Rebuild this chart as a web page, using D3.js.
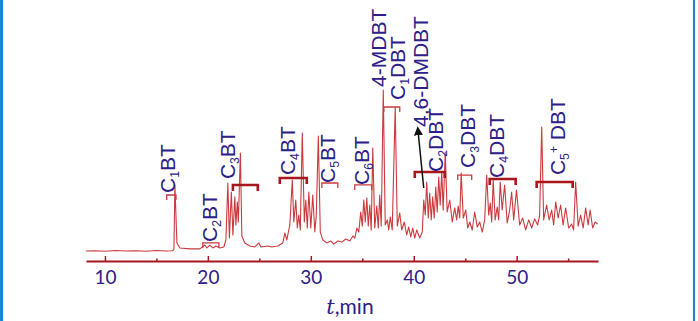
<!DOCTYPE html>
<html>
<head>
<meta charset="utf-8">
<script src="https://cdn.jsdelivr.net/npm/d3@7"></script>
<style>
body { margin: 0; background: #fff; }
svg { display: block; }
</style>
</head>
<body>
<svg></svg>
<script>
var width = 698, height = 321;

// retention time (min) and detector signal (% of largest peak)
var times = [8.16, 9.0, 10.0, 11.0, 12.0, 13.0, 14.0, 15.0, 16.0, 16.55, 16.70, 16.80, 16.99, 17.28,
	18.25, 19.22, 19.71, 19.90, 20.19, 20.49, 20.78, 21.17, 21.55, 21.75, 21.94, 22.09, 22.28, 22.43,
	22.62, 22.72, 22.86, 22.96, 23.16, 23.30, 23.59, 24.08, 24.56, 24.95, 25.15, 25.83, 26.21, 26.80,
	27.28, 27.48, 27.67, 27.96, 28.20, 28.35, 28.54, 28.69, 28.83, 28.98, 29.17, 29.37, 29.51, 29.66,
	29.81, 30.00, 30.19, 30.39, 30.53, 30.73, 30.92, 31.17, 31.55, 31.94, 32.23, 32.62, 33.01, 33.40,
	33.79, 34.08, 34.27, 34.47, 34.66, 34.85, 35.00, 35.15, 35.29, 35.44, 35.58, 35.73, 35.87, 36.02,
	36.21, 36.41, 36.55, 36.70, 36.84, 37.04, 37.23, 37.43, 37.57, 37.72, 37.91, 38.20, 38.40, 38.64,
	38.83, 39.08, 39.32, 39.51, 39.71, 39.90, 40.10, 40.29, 40.58, 40.83, 40.97, 41.12, 41.26, 41.41,
	41.55, 41.70, 41.84, 41.99, 42.14, 42.28, 42.43, 42.57, 42.72, 42.86, 43.06, 43.25, 43.50, 43.74,
	43.98, 44.17, 44.32, 44.47, 44.61, 44.81, 45.05, 45.24, 45.44, 45.68, 45.92, 46.17, 46.41, 46.65,
	46.89, 47.09, 47.28, 47.43, 47.57, 47.72, 47.91, 48.11, 48.25, 48.40, 48.59, 48.83, 49.08, 49.32,
	49.51, 49.71, 49.98, 50.29, 50.58, 50.87, 51.17, 51.46, 51.75, 52.04, 52.23, 52.43, 52.62, 52.91,
	53.16, 53.40, 53.59, 53.79, 54.03, 54.27, 54.51, 54.76, 55.05, 55.34, 55.53, 55.73, 55.97, 56.21,
	56.46, 56.70, 56.94, 57.14, 57.38, 57.62, 57.86];
var signal = [0.6, 0.8, 0.5, 0.9, 0.6, 0.8, 0.5, 0.9, 0.6, 0.8, 1.5, 41.4, 5.6, 2.5,
	1.9, 1.9, 4.3, 2.5, 4.3, 2.5, 3.7, 2.5, 3.1, 7.4, 42.6, 8.6, 37.0, 10.5,
	34.0, 16.7, 30.9, 18.5, 61.1, 9.9, 5.6, 3.7, 3.1, 5.6, 3.1, 3.7, 3.1, 3.7,
	5.6, 11.7, 7.4, 16.7, 44.4, 18.5, 32.1, 14.8, 22.8, 13.6, 73.5, 18.5, 32.1, 14.8,
	37.0, 14.8, 35.2, 12.3, 22.8, 71.6, 12.3, 7.4, 5.6, 6.8, 4.9, 6.8, 6.2, 8.0,
	6.8, 9.9, 8.6, 14.8, 12.3, 24.7, 16.0, 32.1, 18.5, 33.3, 16.0, 29.0, 13.6, 64.2,
	14.8, 28.4, 14.8, 35.2, 16.0, 100, 16.7, 19.8, 13.6, 21.6, 13.6, 89.5, 16.0, 24.1,
	13.6, 18.5, 10.5, 15.4, 9.3, 14.8, 8.6, 13.6, 8.6, 12.3, 32.1, 22.8, 43.2, 21.0,
	36.4, 19.8, 34.0, 21.0, 40.1, 24.7, 46.3, 29.0, 49.4, 25.9, 61.7, 24.7, 32.1, 18.5,
	27.2, 19.8, 28.4, 21.0, 48.8, 21.0, 25.9, 14.8, 18.5, 13.6, 24.7, 15.4, 18.5, 12.3,
	19.8, 47.5, 22.8, 30.2, 18.5, 44.4, 19.8, 27.8, 19.8, 43.2, 25.9, 41.4, 17.9, 25.9,
	37.0, 19.8, 38.3, 16.7, 21.0, 13.6, 19.8, 14.8, 20.4, 16.7, 22.8, 77.2, 19.8, 29.0,
	19.8, 25.9, 16.7, 30.9, 21.0, 29.0, 16.7, 27.2, 14.8, 17.3, 13.6, 43.2, 16.0, 22.8,
	14.8, 27.2, 16.7, 25.9, 14.8, 18.5, 17.3];

var xTicks = [10, 20, 30, 40, 50];
var xMinorTicks = [15, 25, 35, 45, 55];

// group labels: text, retention time, signal level at the foot of the text
var labelText = ["C_{1}BT", "C_{2}BT", "C_{3}BT", "C_{4}BT", "C_{5}BT", "C_{6}BT", "4-MDBT",
	"C_{1}DBT", "4,6-DMDBT", "C_{2}DBT", "C_{3}DBT", "C_{4}DBT", "C_{5}^{+} DBT"];
var labelTime = [16.12, 20.19, 21.94, 27.77, 31.65, 34.95, 36.60, 38.45, 40.68, 42.14, 45.24, 48.06, 53.98];
var labelLevel = [36.4, 6.2, 45.0, 47.5, 42.6, 41.4, 101.9, 93.8, 77.2, 49.4, 51.9, 45.7, 47.5];

// group brackets: start time, end time, signal level
var bracketName = ["C1BT", "C2BT", "C3BT", "C4BT", "C5BT", "C6BT", "C1DBT", "C2DBT", "C3DBT", "C4DBT", "C5DBT"];
var bracketStart = [16.0, 19.51, 22.43, 26.99, 31.07, 34.27, 37.09, 40.10, 44.27, 47.38, 51.94];
var bracketEnd = [16.9, 21.07, 24.85, 29.61, 32.62, 35.92, 38.64, 43.01, 45.63, 49.90, 55.44];
var bracketLevel = [35.2, 5.6, 41.4, 45.7, 42.6, 41.4, 89.5, 49.4, 47.5, 45.1, 43.2];
var thickBrackets = ["C3BT", "C4BT", "C2DBT", "C4DBT", "C5DBT"];

// arrow pointing at 4,6-DMDBT
var arrowFrom = [40.97, 39.5], arrowTo = [40.39, 76.5];

var textColor = "#2e2088", red = "#a8161e", traceRed = "#cc3a3e";
var labelFont = "'Liberation Sans', Arial, sans-serif";

var svg = d3.select("svg")
	.attr("width", width)
	.attr("height", height);

// blue frame edges
svg.append("line").attr("x1", 1.5).attr("x2", 1.5).attr("y1", 0).attr("y2", height)
	.attr("stroke", "#1b84cc").attr("stroke-width", 3);
svg.append("line").attr("x1", 694).attr("x2", 694).attr("y1", 0).attr("y2", height)
	.attr("stroke", "#1b84cc").attr("stroke-width", 2);

var x = d3.scaleLinear().domain([8.16, 57.9]).range([86, 598]);
var y = d3.scaleLinear().domain([0, 100]).range([252, 90]);

var axisY = 261;

var points = times.map(function(t, i) { return [t, signal[i]]; });

svg.append("path")
	.datum(points)
	.attr("fill", "none")
	.attr("stroke", traceRed)
	.attr("stroke-width", 1.1)
	.attr("stroke-linejoin", "round")
	.attr("d", d3.line()
		.x(function(d) { return x(d[0]); })
		.y(function(d) { return y(d[1]); }));

// x axis
var gx = svg.append("g")
	.attr("transform", "translate(0," + axisY + ")")
	.call(d3.axisBottom(x)
		.tickValues(xTicks)
		.tickSizeInner(-5)
		.tickSizeOuter(0)
		.tickPadding(10));
gx.select(".domain").attr("stroke", red).attr("stroke-width", 2);
gx.selectAll(".tick line").attr("stroke", red).attr("stroke-width", 1.5);
gx.selectAll(".tick text")
	.attr("fill", textColor)
	.attr("font-family", "Lato, 'Open Sans', sans-serif")
	.attr("font-size", 19);

var gm = svg.append("g")
	.attr("transform", "translate(0," + axisY + ")")
	.call(d3.axisBottom(x)
		.tickValues(xMinorTicks)
		.tickSizeInner(-2.5)
		.tickSizeOuter(0)
		.tickFormat(""));
gm.select(".domain").remove();
gm.selectAll(".tick line").attr("stroke", red).attr("stroke-width", 1.5);

var axisLabel = svg.append("text")
	.attr("x", 350)
	.attr("y", 314)
	.attr("text-anchor", "middle")
	.attr("fill", textColor)
	.attr("font-family", "Lato, 'Open Sans', sans-serif")
	.attr("font-size", 21);
axisLabel.append("tspan").attr("font-style", "italic").attr("font-family", "'DejaVu Serif', serif").text("t");
axisLabel.append("tspan").text(",min");

// brackets
svg.append("g")
	.selectAll("path")
	.data(bracketName)
	.enter()
	.append("path")
	.attr("fill", "none")
	.attr("stroke", function(d) { return thickBrackets.indexOf(d) >= 0 ? red : traceRed; })
	.attr("stroke-width", function(d) { return thickBrackets.indexOf(d) >= 0 ? 2.6 : 1.3; })
	.attr("d", function(d, i) {
		var x1 = x(bracketStart[i]), x2 = x(bracketEnd[i]), yy = y(bracketLevel[i]);
		var tick = thickBrackets.indexOf(d) >= 0 ? 6 : 5;
		return "M" + x1 + "," + (yy + tick) + "L" + x1 + "," + yy +
			"L" + x2 + "," + yy + "L" + x2 + "," + (yy + tick);
	});

// arrow
svg.append("defs").append("marker")
	.attr("id", "arrowhead")
	.attr("viewBox", "0 -5 10 10")
	.attr("refX", 8)
	.attr("refY", 0)
	.attr("markerWidth", 6)
	.attr("markerHeight", 6)
	.attr("orient", "auto")
	.append("path")
	.attr("d", "M0,-5L10,0L0,5Z")
	.attr("fill", "#111");

svg.append("line")
	.attr("x1", x(arrowFrom[0])).attr("y1", y(arrowFrom[1]))
	.attr("x2", x(arrowTo[0])).attr("y2", y(arrowTo[1]))
	.attr("stroke", "#111")
	.attr("stroke-width", 1.5)
	.attr("marker-end", "url(#arrowhead)");

// vertical labels with sub/superscripts
function addParts(textSel, str) {
	var parts = str.split(/(_\{[^}]*\}|\^\{[^}]*\})/).filter(function(s) { return s.length; });
	var shift = 0;
	parts.forEach(function(p) {
		var target = 0, content = p, small = false;
		if (p[0] === "_") { target = 4; content = p.slice(2, -1); small = true; }
		else if (p[0] === "^") { target = -7; content = p.slice(2, -1); small = true; }
		var ts = textSel.append("tspan")
			.attr("dy", target - shift)
			.text(content);
		if (small) ts.attr("font-size", "0.58em");
		shift = target;
	});
}

svg.append("g")
	.selectAll("text")
	.data(labelText)
	.enter()
	.append("text")
	.attr("transform", function(d, i) {
		return "translate(" + (x(labelTime[i]) + 7.5) + "," + y(labelLevel[i]) + ") rotate(-90)";
	})
	.attr("fill", textColor)
	.attr("font-family", labelFont)
	.attr("font-size", 21)
	.each(function(d) { addParts(d3.select(this), d); });
</script>
</body>
</html>
